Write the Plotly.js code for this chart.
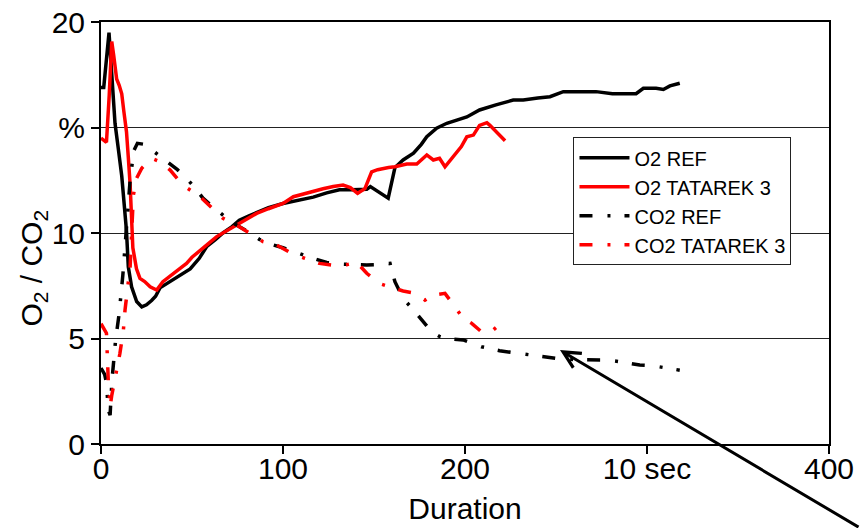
<!DOCTYPE html>
<html>
<head>
<meta charset="utf-8">
<script src="https://cdn.plot.ly/plotly-3.0.1.min.js"></script>
<style>html,body{margin:0;padding:0;background:#fff;}#chart{width:860px;height:528px;}</style>
</head>
<body>
<div id="chart"></div>
<script>
// ---- data ----
const o2RefT = [0,1.5,4.4,6,7.7,9.5,11.4,14,15,16.8,19.6,22.4,25,27.8,30,32.4,36,39.6,44,49,54,58,63,67,72,76,81,85.5,92,100,108,116.6,124,131,138,146,148,153,157.8,161.5,166,171.7,176,179,184.4,190,196,201,208,213.7,217,226.5,232,240,246.7,254,263,272,281,288,294,298,305,309,312.6,318];
const o2RefY = [16.9,16.9,19.5,17.4,15.2,14.0,12.7,10.1,8.4,7.45,6.75,6.5,6.6,6.8,7.0,7.4,7.6,7.8,8.0,8.3,8.8,9.35,9.7,10.0,10.3,10.6,10.8,10.96,11.2,11.4,11.55,11.7,11.9,12.05,12.05,12.07,12.2,11.9,11.65,13.1,13.46,13.78,14.2,14.56,14.97,15.2,15.35,15.5,15.83,16.0,16.07,16.3,16.3,16.4,16.46,16.7,16.7,16.7,16.6,16.62,16.6,16.86,16.86,16.8,16.97,17.1];

const o2TatT = [0,1.5,3,4.5,5.9,7,8.6,10,11.4,12.5,14,15,16,17.5,19.5,21.4,24,27,30.6,34,39.7,43,47,50,54.4,59,63.6,68,72.7,79,85.5,92,100,105.7,111,116.6,122,127.6,133,137,141,145,148.7,152,155,158,161.5,168,173.5,179,182.6,186,189,193.6,198,201,204.6,208,212,213.7,217,222];
const o2TatY = [14.5,14.4,14.3,16.5,19.07,18.4,17.3,17.0,16.6,15.8,14.8,13.6,12.3,9.3,8.3,7.85,7.7,7.45,7.3,7.69,8.09,8.3,8.56,8.85,9.19,9.5,9.83,10.05,10.3,10.6,10.93,11.15,11.4,11.72,11.85,12.0,12.1,12.2,12.27,12.15,11.88,12.1,12.9,13.0,13.06,13.1,13.14,13.27,13.27,13.7,13.46,13.54,13.14,13.6,14.1,14.56,14.64,15.1,15.23,15.1,14.8,14.37];

const co2RefT = [0,2,3,4,5,6,8,10,12,14,16,18,20,24,29.7,36,42,47,52,56,62,67,72,80,87,94.7,100,113,124,131,138,146,152,158.8,161.5,166,172.5,177,181.7,186,190,199,209,219,230,241,250,260,268.7,278,285,296,303,310,318];
const co2RefY = [3.6,3.3,2.9,1.6,1.37,3.0,4.9,6.2,8.0,10.2,12.5,13.9,14.25,14.2,13.8,13.4,13.0,12.6,12.1,11.65,11.2,10.85,10.5,10.1,9.7,9.43,9.3,8.9,8.6,8.53,8.5,8.48,8.5,8.56,7.69,6.9,6.27,5.8,5.32,5.1,5.0,4.93,4.61,4.42,4.3,4.14,4.06,4.0,3.98,3.98,3.9,3.74,3.71,3.6,3.5];

const co2TatT = [0,3,4,5,5.9,8.2,10.4,12.3,13.2,16,17.8,19.6,22.4,27.8,32.4,38,45,54.4,60,67,76,82,89,96.5,104,112,120,129.5,135,140.5,146,153,160.6,166,172.5,178,182.6,189,194.5,199,203.7,209,213.7,222];
const co2TatY = [5.7,5.25,3.0,1.77,2.3,3.35,4.3,5.4,6.35,8.4,11.8,12.6,13.07,13.54,13.38,12.98,12.27,11.72,11.25,10.7,10.3,9.95,9.59,9.43,9.07,8.8,8.56,8.45,8.5,8.61,8.09,7.6,7.38,7.25,7.15,6.82,7.06,7.14,6.5,5.95,5.72,5.32,5.27,5.88];

const seriesNames = ['O2 REF','O2 TATAREK 3','CO2 REF','CO2 TATAREK 3'];
const xTickVals = [0,100,200,300,400];
const xTickText = ['0','100','200','10 sec','400'];
const yTickVals = [0,5,10,15,20];
const yTickText = ['0','5','10','%','20'];
const arrowTarget = {t: 252.2, y: 4.45};

const FONT = 'Liberation Sans, Arial, sans-serif';
const dashDot = '13px,15px,3px,14px';

const traces = [
  {x:o2RefT, y:o2RefY, name:seriesNames[0], mode:'lines', line:{color:'#000000', width:3.5}},
  {x:o2TatT, y:o2TatY, name:seriesNames[1], mode:'lines', line:{color:'#ff0000', width:3.5}},
  {x:co2RefT, y:co2RefY, name:seriesNames[2], mode:'lines', line:{color:'#000000', width:3.5, dash:dashDot}},
  {x:co2TatT, y:co2TatY, name:seriesNames[3], mode:'lines', line:{color:'#ff0000', width:3.5, dash:dashDot}}
];

const layout = {
  width:860, height:528,
  margin:{l:101, r:31, t:22, b:84},
  paper_bgcolor:'#ffffff', plot_bgcolor:'#ffffff',
  font:{family:FONT, size:30, color:'#000'},
  showlegend:true,
  legend:{x:0.649, y:0.727, xanchor:'left', yanchor:'top', bgcolor:'#ffffff',
          bordercolor:'#222', borderwidth:1, font:{family:FONT, size:20, color:'#000'},
          itemwidth:50, tracegroupgap:0},
  xaxis:{range:[0,400], tickmode:'array', tickvals:xTickVals, ticktext:xTickText,
         showgrid:false, zeroline:false, showline:true, linecolor:'#000', linewidth:2,
         mirror:true, ticks:'outside', ticklen:8, tickwidth:2, tickcolor:'#000',
         ticklabelstandoff:-11,
         tickfont:{family:FONT, size:30, color:'#000'},
         title:{text:'Duration', font:{family:FONT, size:30, color:'#000'}, standoff:14}},
  yaxis:{range:[0,20], tickmode:'array', tickvals:yTickVals, ticktext:yTickText,
         showgrid:true, gridcolor:'#222', gridwidth:1, zeroline:false,
         showline:true, linecolor:'#000', linewidth:2, mirror:true,
         ticks:'outside', ticklen:8, tickwidth:2, tickcolor:'#000',
         tickfont:{family:FONT, size:30, color:'#000'}},
  annotations:[
    {xref:'paper', yref:'paper', x:-0.094, y:0.417, xanchor:'center', yanchor:'middle',
     text:'O<sub>2</sub> / CO<sub>2</sub>', textangle:-90, showarrow:false,
     font:{family:FONT, size:30, color:'#000'}},
    {xref:'x', yref:'y', x:arrowTarget.t, y:arrowTarget.y, text:'', showarrow:true,
     ax:330, ay:190, arrowhead:5, arrowsize:1.1, arrowwidth:3, arrowcolor:'#000', standoff:0}
  ]
};

Plotly.newPlot('chart', traces, layout, {displayModeBar:false, staticPlot:true});
</script>
</body>
</html>
